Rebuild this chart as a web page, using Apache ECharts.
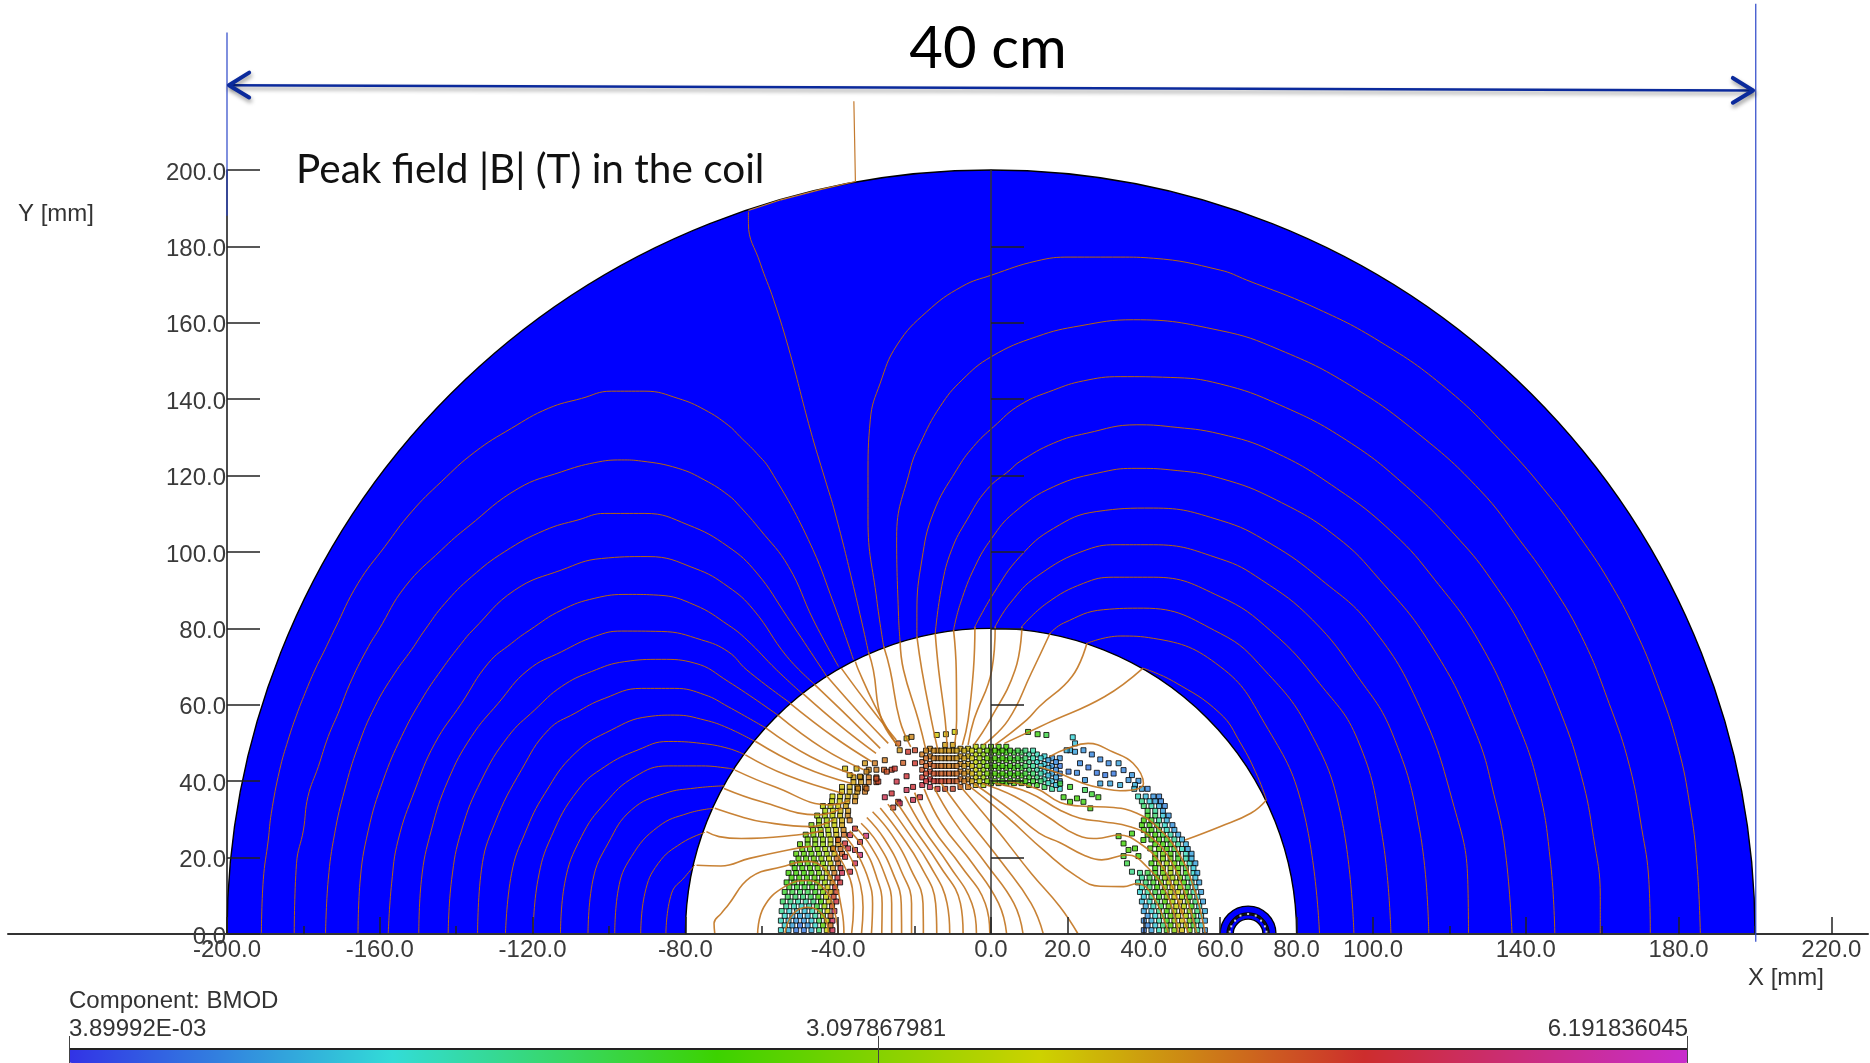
<!DOCTYPE html>
<html><head><meta charset="utf-8"><style>html,body{margin:0;padding:0;background:#fff}#c{width:1870px;height:1063px}</style>
<script src="https://cdn.jsdelivr.net/npm/echarts@6/dist/echarts.min.js"></script></head>
<body><div id="c"></div><script>
// ---------- axes (mm) ----------
const xMajor=[-200,-160,-120,-80,-40,0,20,40,60,80,100,140,180,220];
const xMinor=[-180,-140,-100,-60,-20,120,160,200];
const yTicks=[0,20,40,60,80,100,120,140,160,180,200];
const centerTicks=[20,40,60,80,100,120,140,160,180];
// ---------- labels ----------
const dimensionLabel='40 cm';
const plotTitle='Peak field |B| (T) in the coil';
const yName='Y [mm]', xName='X [mm]';
const componentName='Component: BMOD';
const fieldMin=3.89992e-3, fieldMid=3.097867981, fieldMax=6.191836045;
const fieldMinText='3.89992E-03', fieldMidText='3.097867981', fieldMaxText='6.191836045';
const fieldColors=['#3232e6','#32dcd7','#3cd200','#cdd200','#cd2d2d','#c82dcd'];
// ---------- iron and small conductor: [cx, cy, innerR, outerR] ----------
const ironBands=[[0,0,80,200]];
const conductorBlue=[[67.3,0,5.5,7.3],[67.3,0,3.9,5]];
const conductorDark=[[67.3,0,5,5.5]];
const conductorDots=[[62.5,0.6],[62.9,2],[63.9,3.5],[65.3,4.8],[67.3,5.25],[69.3,4.8],[70.7,3.5],[71.7,2],[72.1,0.6]];
// ---------- dimension lines ----------
const spanLine=[[-199.5,222.2],[199.5,220.8]];
const spanHeadLeft=[[-194.2,225.5],[-199.5,222.2],[-194.2,219]];
const spanHeadRight=[[194.2,224.1],[199.5,220.8],[194.2,217.6]];
const leftGuide=[[-200,188],[-200,236]];
const rightGuide=[[200.2,-2],[200.2,243.5]];
// ---------- flux lines in the iron ----------
const ironLines=[
[[-191,0],[-190.5,14.2],[-189.2,24.6],[-188.4,31.6],[-186.2,43],[-184,50.8],[-181.8,57.3],[-179.6,63],[-177,69.1],[-174.4,74.4],[-171.9,79.6],[-165.7,91.8],[-158.7,101.4],[-151.7,110.5],[-143.9,118.4],[-135.1,126.2],[-125.5,132.4],[-115.9,137.6],[-107.2,140.2],[-99.4,142.1],[-90.6,142.1],[-81.9,140.2],[-74.9,137.2],[-68.8,133.2],[-65.7,130.2],[-61.3,125.8],[-57.8,121.5],[-47.8,103.2],[-41.2,86.6],[-36,71.8]],
[[-182.4,0],[-181.8,18.5],[-180,27.2],[-178.8,36],[-176.1,43.8],[-173.5,51.7],[-170.9,57.8],[-167.4,66.5],[-163,75.2],[-160.3,79.6],[-153.4,90.9],[-143.9,100.5],[-136.9,106.6],[-123.8,116.6],[-112.4,121],[-103.7,123.4],[-96.7,124.1],[-91.5,123.8],[-81.9,121.9],[-74.9,118.8],[-68.8,114.9],[-65.7,111.9],[-60.4,105.8],[-53,96.2],[-46.5,82.2],[-39.9,70]],
[[-174.2,0],[-173.5,14.2],[-171.8,26.4],[-169.2,37.7],[-165.7,49.1],[-161.3,59.5],[-156.1,68.3],[-151.7,74.4],[-148.2,79.6],[-143,86.5],[-136,93.5],[-127.3,100.1],[-116.8,105.7],[-108.1,108.4],[-101.1,110.1],[-90.6,110.1],[-79.3,107.1],[-68.8,101.4],[-61.3,94.5],[-53.4,83.1],[-42.9,67.3]],
[[-165.7,0],[-165.2,13.3],[-163,27.2],[-159.1,40.3],[-154.3,51.7],[-149.1,61.3],[-143.9,69.1],[-138.6,76.1],[-135.6,79.6],[-124.7,90],[-112.4,95.3],[-102,98.3],[-89.8,98.8],[-77.5,95.7],[-68.8,90.9],[-62.2,84.9],[-53.4,72.6],[-46,65.2]],
[[-157.8,0],[-156.9,13.3],[-155.2,24.6],[-150.8,37.7],[-145.6,49.9],[-138.6,60.4],[-131.6,70.9],[-125.5,76.1],[-120.7,79.6],[-112.4,84.8],[-103.7,87.9],[-95,88.9],[-87.1,88.7],[-77.5,86.1],[-68.8,80.9],[-63.9,77],[-56.1,69.1],[-49.5,63]],
[[-149.8,0],[-149.1,14.2],[-146.5,27.2],[-142.1,40.3],[-136,51.7],[-129,60.4],[-121.2,69.1],[-112.4,73.9],[-103.7,77.9],[-96.7,79.3],[-86.3,79.2],[-75.8,77],[-68.8,73.9],[-63.9,69.1],[-52.6,60.5]],
[[-142.1,0],[-141.2,14.2],[-138.6,27.2],[-133.4,40.3],[-126.4,51.7],[-119.4,58.7],[-112.4,64.8],[-104.6,68.7],[-95.9,71.3],[-86.3,71.9],[-77.5,70.9],[-68.8,66.1],[-55.8,57.3]],
[[-134.4,0],[-133.4,16.8],[-129.9,29],[-122.9,43],[-115.9,53.4],[-108.9,57.8],[-101.1,61.7],[-91.5,64.3],[-82.8,64.3],[-74.9,62.6],[-68.8,59.5],[-58.9,53.9]],
[[-127.1,0],[-125.5,15.9],[-122,26.4],[-116.8,36.8],[-108.9,47.3],[-99.4,53.4],[-89.8,56.9],[-82.8,57.3],[-74.9,56],[-68.8,53.9],[-61.6,50.3]],
[[-119.9,0],[-118.6,14.2],[-115.1,25.5],[-108.1,37.7],[-101.1,43.8],[-92.4,48.2],[-84.5,50.4],[-75.8,49.9],[-68.8,48.6],[-64.4,46.9]],
[[-112.7,0],[-111.6,13.3],[-107.2,25.5],[-101.1,34.2],[-93.2,41.2],[-84.5,44],[-75.8,44],[-68.8,43.4],[-67,43]],
[[-105.5,0],[-104.2,14.2],[-100.2,23.8],[-94.1,32.5],[-85.4,36.8],[-77.5,38.2],[-69.7,38.8]],
[[-98.5,0],[-97.6,11.5],[-94.1,20.3],[-87.1,28.1],[-79.3,31.6],[-72.7,32.9]],
[[-91.7,0],[-90.6,10.7],[-87.1,18.5],[-81,23.8],[-74.9,26.6]],
[[-85.1,0],[-83.6,10.7],[-80.1,15],[-77.5,18.1]],
[[-63.5,189.1],[-63.5,186],[-60.4,175.6],[-56.9,166],[-52.6,152],[-47.3,132],[-43.4,118.9],[-40.8,110.2],[-36,91],[-32.1,73.9]],
[[-28.1,75.3],[-29.9,87.5],[-32.2,108.4],[-32.2,119.7],[-31.6,134.6],[-29,144.2],[-24.6,154.2],[-16.8,162.9],[-7.6,169.5],[0.2,172.5],[12,176.2],[20.7,177.2],[33.8,177.2],[42.5,176.9],[60,173.8],[66.9,171.2],[84.3,164.2],[101.8,155.1],[119.2,142.8],[134.1,128.4],[146.3,114.5],[154.1,104],[161.6,92.7],[168.6,79.6],[174.4,65.6],[179.8,49.1],[183,33.4],[184.8,18.5],[185.7,0]],
[[-23.8,76.6],[-24.2,83.1],[-24.7,104],[-21.2,121.5],[-18.5,128.5],[-13.3,138.1],[-7.6,145],[0.2,151.2],[12,156.4],[23.3,159.2],[37.3,160.8],[59.9,158],[75.6,152.9],[93.9,143.7],[112.3,130.6],[128,116.2],[138.4,103.1],[145.9,92.7],[154.6,77.9],[161.8,60.4],[167.2,43.8],[170.4,27.3],[172.2,14.2],[172.6,0]],
[[-19.4,77.9],[-19.4,84],[-18.1,97.9],[-15.1,110.2],[-9,121.5],[-4.6,127.6],[0.7,132.8],[7.6,138.5],[16.4,142.4],[24.2,144.8],[33.8,145.9],[46.9,145.7],[60,144],[75.6,138.5],[93,129.3],[108.8,117.1],[122.7,103.1],[131,92.7],[140.2,77.9],[149.2,57.8],[154.6,41.2],[157.7,25.5],[159.5,9.8],[159.5,0]],
[[-14.6,78.7],[-12.9,91],[-10.3,100.6],[-6.3,108.4],[-1.1,116.3],[5,121.5],[7.6,123.7],[16.4,128.5],[25.1,131.1],[38.2,133.3],[46.9,132.8],[60,130.9],[73.9,126.3],[90.4,116.7],[105.3,104.9],[116.2,92.7],[127.5,77],[137.5,56],[143.3,38.6],[146.5,18.5],[147.6,0]],
[[-9.8,79.6],[-8,86.6],[-4.2,96.2],[0.2,103.6],[5.9,110.2],[16.4,117.1],[29.5,121],[38.2,121.9],[46.9,121.5],[60,119.3],[74.7,113.6],[90.4,104],[101.8,92.7],[114.9,76.1],[126.6,53.4],[132,35.1],[134.7,21.1],[136.4,0]],
[[-4.2,80.5],[0.7,89.2],[7.6,98.8],[16.4,106.2],[27.7,110.6],[42.5,111.5],[60,108.3],[73,102.3],[86.5,92.7],[99.6,80.5],[112.2,59.5],[121.2,33.4],[124.8,14.2],[125,0]],
[[1.1,80.5],[5,86.6],[12,93.6],[25.1,100.6],[33.8,101.9],[42.5,101.9],[60,98.2],[70.8,92.7],[84.2,82.2],[96,67.4],[105,52.6],[112.2,27.3],[114.6,0]],
[[8.1,80.5],[14.6,86.6],[24.2,91.8],[32.1,93.4],[42.5,93.4],[60,88.3],[73.4,79.2],[86,65.6],[96,50.8],[102.3,26.4],[104.7,0]],
[[15.5,78.8],[19,81.4],[29.5,84.9],[39.9,85.3],[60,78.7],[71.6,69.1],[83.3,53.4],[91.5,31.6],[95,0]],
[[25.1,76.1],[33.8,78],[42.5,77.4],[60,70],[71.6,55.2],[81.5,33.4],[86,0]],
[[39.8,69.6],[47.8,66.1],[59.9,57.8],[65.3,50],[69.8,41.2],[72.1,35.1]]
];
const edgeLine=[[-35.9,218],[-35.7,208],[-35.5,197],[-45,194.8],[-55,192.2],[-63.5,189.4]];
// ---------- flux lines in the air gap and bore ----------
const boreLines=[
[[-77.1,18],[-70.7,17.8],[-63.2,19.8],[-53.1,22],[-47,23]],
[[-74.5,26.8],[-71.2,25.5],[-65.4,25],[-50.9,25.9],[-44,27]],
[[-72.3,32.9],[-65.4,30.7],[-60,29.4],[-47.2,28.1],[-41,30]],
[[-69.9,38.1],[-60,34.6],[-45.1,31.2],[-39,33]],
[[-67,42.9],[-56.8,38.6],[-41.9,33.8],[-37,35]],
[[-64.3,46.9],[-53.6,41.6],[-38.7,36.8]],
[[-61.6,50.4],[-49.3,43.8],[-36.5,39.4]],
[[-58.9,53.9],[-47.2,46.4],[-35.5,41.6]],
[[-55.8,57.3],[-44,48.6],[-33.3,43]],
[[-52.6,60.4],[-41.3,51.7],[-31.2,45.1]],
[[-49.3,63],[-39.2,54.3],[-30.1,47.3]],
[[-46.1,65.2],[-36.5,56],[-29,48.6]],
[[-42.9,67.4],[-34.4,57.8],[-26.9,49.9]],
[[-39.2,69.6],[-31.7,59.5],[-24.8,50.8]],
[[-35.5,71.3],[-34.7,69.1],[-30.5,60],[-25,50]],
[[-32.1,73.9],[-30.8,69.1],[-28.6,56],[-24,49]],
[[-28.1,75.3],[-26.4,69.1],[-23.9,56],[-21,49]],
[[-23.8,76.6],[-22.9,69.1],[-19,56],[-17,48]],
[[-19.4,77.9],[-18.1,69.1],[-15.6,56],[-14,48.5]],
[[-14.6,78.7],[-13.7,69.1],[-12,56],[-11.5,49]],
[[-9.8,79.6],[-9.1,69.1],[-9,56],[-9.5,49.5]],
[[-4.2,80.5],[-4.6,69.1],[-6,56],[-7.5,49.5]],
[[1.1,80.5],[0.2,69.1],[-4.5,56],[-6,49.5]],
[[8.1,80.5],[6.3,69.1],[-0.3,56],[-4.5,49.5]],
[[15.5,78.8],[10.5,68.2],[4.5,56],[-2,49.5]],
[[25.1,76.1],[21.2,67.4],[12.6,59.5],[9.3,56],[1,49.5]],
[[39.8,69.6],[29.7,62.1],[14.8,55.2],[3.5,49.9]],
[[72.1,35.1],[68,31.6],[59.9,28.1],[50.8,24.6]],
[[15.3,46.4],[20.1,48.6],[25.4,49.9],[31.8,47.7],[37.2,44.7],[39.9,39.4],[33.8,37.5],[29.4,38.1],[24.2,39.4],[18,42],[12.6,43.8]],
[[56.1,0],[53,12.4],[48.6,22],[43.4,28.1],[38.2,31.6],[32.1,33.1],[23.3,33.5],[18.1,34.4],[12,38],[4,40]],
[[53.9,0],[50.8,10.6],[46.9,19.4],[41.7,25.5],[36.4,28.1],[29.4,29.4],[23.3,30.3],[18.1,32.4],[10,37],[1,39.5]],
[[51.7,0],[48.2,10.6],[44.3,18.5],[39,23.7],[33.4,25.9],[27.7,25],[22.5,25.9],[14.8,30.7],[6.2,36],[-2.3,39.4]],
[[49.1,0],[46,10.6],[40.8,17.6],[35.6,20.7],[29,19.4],[24.2,20.7],[18.1,23.9],[12.6,26.4],[5.1,32.5],[-4.5,39.4]],
[[46.5,0],[42.5,9.7],[38.2,13.2],[34.7,12.4],[28.6,12.5],[22.5,15],[13.7,22],[4.1,30.7],[-6.6,39.4]],
[[22.8,0],[18,7.2],[10.5,15.9],[0.9,28.1],[-8.7,39.4]],
[[13.7,0],[10.5,8],[3,18.5],[-6.6,30.7],[-13,39.4]],
[[8.4,0],[6,8],[-1,18],[-10,30],[-15,38.5]],
[[4.1,0],[2,8],[-4.5,18],[-13,29],[-17.5,38]],
[[-0.3,0],[-1.5,8],[-8,18],[-15.5,28],[-20,37]],
[[-3.8,0],[-5,8],[-11,18],[-18,28],[-22.5,36]],
[[-7.3,0],[-8,8],[-13.5,18],[-20,27.5],[-25,35]],
[[-10.8,0],[-11.5,8],[-16,18],[-22,27],[-27,34]],
[[-14.2,0],[-14.5,8],[-18.5,18],[-24,26.5],[-29,33]],
[[-17.7,0],[-17.8,8],[-21,17],[-26,26],[-31,32]],
[[-20.8,0],[-20.8,8],[-23.5,16.5],[-28,25],[-32.5,30.5]],
[[-23.4,0],[-23.5,8],[-25.7,16],[-29.8,24],[-34,29]],
[[-26,0],[-26,8],[-27.8,15.5],[-31.5,23],[-35.5,28]],
[[-28.6,0],[-28.5,8],[-30,15],[-33,22],[-37,27]],
[[-31.3,0],[-31,8],[-32,14],[-35,21],[-38,25.5]],
[[-33.9,0],[-33.5,7],[-34.2,13],[-36.5,19.5],[-39.5,24]],
[[-36.5,0],[-36,7],[-36.3,12],[-38.5,18],[-41,22]],
[[-54,0],[-52,5],[-48,7],[-44,5],[-42.5,0]],
[[-61.1,0],[-59.5,7],[-54,12.4],[-48,14],[-43,11],[-40.5,4],[-40,0]],
[[-72.3,0],[-72.5,2.8],[-70.6,5.4],[-68.8,7.6],[-63,14.8],[-54.7,17.6],[-48,19],[-42,15],[-39,6],[-38.5,0]]
];
// ---------- coil strands: [x, y, |B|] ----------
const coilLeftLeg=[
[-55,1,1.3],[-53,1,.9],[-51,1,.5],[-49,1,.5],[-47,1,.9],[-45,1,1.8],[-43,1,3.6],[-41.5,1,5.2],
[-55,3.5,1.4],[-53,3.5,1],[-51,3.5,.7],[-49,3.5,.7],[-47,3.5,1.1],[-45,3.5,2],[-43,3.5,3.7],[-41.5,3.5,5.3],
[-54.8,6,1.6],[-52.8,6,1.2],[-50.8,6,1],[-48.8,6,1],[-46.8,6,1.4],[-44.8,6,2.2],[-42.8,6,3.8],[-41,6,5.4],
[-54.5,8.5,1.9],[-52.5,8.5,1.7],[-50.5,8.5,1.5],[-48.5,8.5,1.5],[-46.5,8.5,1.8],[-44.5,8.5,2.5],[-42.5,8.5,3.9],[-40.5,8.5,5.1],
[-54,11,2.2],[-52,11,2.1],[-50,11,2],[-48,11,2],[-46,11,2.3],[-44,11,3],[-42,11,4.1],[-40.5,11,4.8],
[-53.5,13.5,2.4],[-51.5,13.5,2.4],[-49.5,13.5,2.4],[-47.5,13.5,2.4],[-45.5,13.5,2.7],[-43.5,13.5,3.3],[-41.5,13.5,4.3],[-39.5,13.5,5],
[-53,16,2.5],[-51,16,2.5],[-49,16,2.5],[-47,16,2.6],[-45,16,2.9],[-43,16,3.5],[-41,16,4.4],[-39,16,5.2],
[-52,18.5,2.6],[-50,18.5,2.6],[-48,18.5,2.7],[-46,18.5,2.9],[-44,18.5,3.1],[-42,18.5,3.7],[-40,18.5,4.5],
[-51,21,2.7],[-49,21,2.7],[-47,21,2.8],[-45,21,3],[-43,21,3.3],[-41,21,3.9],[-39,21,4.6],
[-50,23.5,2.8],[-48,23.5,2.8],[-46,23.5,3],[-44,23.5,3.2],[-42,23.5,3.6],[-40,23.5,4.2],
[-48.5,26,2.9],[-46.5,26,3],[-44.5,26,3.2],[-42.5,26,3.5],[-40.5,26,3.9],[-38.5,26,4.5],
[-47,28.5,3],[-45,28.5,3.2],[-43,28.5,3.4],[-41,28.5,3.7],[-39,28.5,4.1],
[-45.5,31,3.3],[-43.5,31,3.4],[-41.5,31,3.6],[-39.5,31,3.9],[-37.5,31,4.3],
[-44,33.5,3.5],[-42,33.5,3.6],[-40,33.5,3.8],[-38,33.5,4.1],
[-41.5,36,3.7],[-39.5,36,3.8],[-37.5,36,4],[-35.5,36,4.2],
[-39,38.5,3.9],[-37,38.5,4],[-35,38.5,4.2],[-33,38.5,4.4],
[-36,41,4.1],[-34,41,4.2],[-32,41,4.4],[-30,41,4.6],
[-32,43,4.3],[-30,43,4.4],[-28,43,4.6],[-26,43,4.8]];
const coilLeftFill=[
[-54,2.25,1.2],[-52,2.25,.8],[-50,2.25,.5],[-48,2.25,.7],[-46,2.25,1.3],[-44,2.25,2.7],[-42,2.25,4.5],
[-54,4.75,1.3],[-52,4.75,.9],[-50,4.75,.8],[-48,4.75,.9],[-46,4.75,1.5],[-44,4.75,2.9],[-42,4.75,4.6],
[-53.6,7.25,1.6],[-51.6,7.25,1.4],[-49.6,7.25,1.3],[-47.6,7.25,1.5],[-45.6,7.25,2.2],[-43.6,7.25,3.3],[-41.6,7.25,4.7],
[-53.2,9.75,2],[-51.2,9.75,1.9],[-49.2,9.75,1.8],[-47.2,9.75,2],[-45.2,9.75,2.6],[-43.2,9.75,3.6],[-41.2,9.75,4.8],
[-52.8,12.25,2.3],[-50.8,12.25,2.2],[-48.8,12.25,2.2],[-46.8,12.25,2.4],[-44.8,12.25,3],[-42.8,12.25,3.8],[-40.8,12.25,4.9],
[-52.2,14.75,2.5],[-50.2,14.75,2.5],[-48.2,14.75,2.5],[-46.2,14.75,2.7],[-44.2,14.75,3.2],[-42.2,14.75,4],[-40.2,14.75,5],
[-51.4,17.25,2.5],[-49.4,17.25,2.6],[-47.4,17.25,2.7],[-45.4,17.25,2.9],[-43.4,17.25,3.4],[-41.4,17.25,4.2],[-39.4,17.25,5],
[-50.4,19.75,2.7],[-48.4,19.75,2.7],[-46.4,19.75,2.9],[-44.4,19.75,3.2],[-42.4,19.75,3.7],[-40.4,19.75,4.5],
[-49.4,22.25,2.8],[-47.4,22.25,2.8],[-45.4,22.25,3],[-43.4,22.25,3.4],[-41.4,22.25,3.9],[-39.4,22.25,4.5],
[-48,24.75,2.9],[-46,24.75,3],[-44,24.75,3.2],[-42,24.75,3.6],[-40,24.75,4.2],
[-46.6,27.25,3],[-44.6,27.25,3.2],[-42.6,27.25,3.4],[-40.6,27.25,3.8],[-38.6,27.25,4.3],
[-45,29.75,3.2],[-43,29.75,3.4],[-41,29.75,3.7],[-39,29.75,4],[-37,29.75,4.4],
[-43.4,32.25,3.4],[-41.4,32.25,3.6],[-39.4,32.25,3.9],[-37.4,32.25,4.2],
[-41.6,34.75,3.6],[-39.6,34.75,3.8],[-37.6,34.75,4],[-35.6,34.75,4.3],
[-39,37.25,3.9],[-37,37.25,4],[-35,37.25,4.2],[-33,37.25,4.4],
[-36,39.75,4.1],[-34,39.75,4.2],[-32,39.75,4.4],[-30,39.75,4.6]];
const coilLeftSparse=[
[-24.3,49.9,4.6],[-22.1,51.2,3.9],[-20.8,51.6,4.3],[-23.9,48.1,4.2],[-21.7,47.7,4.9],[-19.9,48.1,4.8],
[-14.2,52.1,3.8],[-11.8,52.3,3.9],[-9.5,52.9,3.7],
[-27.8,35.8,5.2],[-26,36.8,5],[-22.1,37.7,5.2],[-20.4,38.5,5],[-24.3,34.6,5.1],[-20.4,35.1,5.2],[-18.6,35.8,5],[-25.6,33.1,4.8],[-23.9,34.2,5.3],
[-32.7,25.7,5.5],[-34.3,24.1,5.2],[-35.6,27.6,5],[-36.9,25.9,5.2],[-38.2,23.7,5],[-40,24.6,4.6],[-35.6,22,5.3],[-37.4,22.4,5.1],[-34.3,20.7,5.5],[-38.2,20.2,5],[-35.6,18.5,5.3],[-36.9,16.3,5.1],[-41.3,22.4,4.4],
[-27.8,45.5,4.4],[-25.2,43.3,4.9],[-23,44.8,4.6],[-22.1,41.3,5],[-19.9,44.7,4.9],[-27.3,42.5,4.7],[-24.7,39.9,5.1],[-29.5,39.9,4.8],
[-33,44.7,4.2],[-30.4,44.7,4.4],[-35.2,43.3,4],[-32.6,42.5,4.3],[-30,40.7,4.7],[-34.3,41.2,4.2],[-32.6,38.1,4.5],[-34.8,38.1,4.3],[-37,41.6,4],[-38.2,43.3,3.9]];
const coilTop=[
[-18,39,5.1],[-18,41,4.9],[-18,43,4.7],[-18,45,4.6],[-18,47,4.4],
[-16,38.5,5.2],[-16,40.5,5],[-16,42.5,4.8],[-16,44.5,4.6],[-16,46.5,4.4],[-16,48.5,4.3],
[-14,38,5],[-14,40,4.9],[-14,42,4.7],[-14,44,4.5],[-14,46,4.4],[-14,48,4.3],
[-12,38,4.9],[-12,40,4.8],[-12,42,4.6],[-12,44,4.4],[-12,46,4.3],[-12,48,4.2],[-12,49.5,4.1],
[-10,38,4.8],[-10,40,4.7],[-10,42,4.5],[-10,44,4.4],[-10,46,4.3],[-10,48,4.2],[-10,49.5,4.1],
[-8,38.5,4.6],[-8,40.5,4.5],[-8,42.5,4.4],[-8,44.5,4.3],[-8,46.5,4.2],[-8,48.5,4.1],
[-6,38.5,4.4],[-6,40.5,4.3],[-6,42.5,4.2],[-6,44.5,4.1],[-6,46.5,4],[-6,48.5,3.9],
[-4,39,3.9],[-4,41,3.8],[-4,43,3.7],[-4,45,3.6],[-4,47,3.5],[-4,49,3.5],
[-2,39,3.4],[-2,41,3.3],[-2,43,3.2],[-2,45,3.1],[-2,47,3.1],[-2,49,3.1],
[0,39.5,2.9],[0,41.5,2.8],[0,43.5,2.7],[0,45.5,2.7],[0,47.5,2.7],[0,49,2.8],
[2,39.5,2.6],[2,41.5,2.6],[2,43.5,2.5],[2,45.5,2.5],[2,47.5,2.5],[2,49,2.6],
[4,39.5,2.5],[4,41.5,2.5],[4,43.5,2.5],[4,45.5,2.5],[4,47.5,2.4],[4,49,2.5],
[6,39.5,2.6],[6,41.5,2.5],[6,43.5,2.4],[6,45.5,2.3],[6,47.5,2.2],
[8,39.5,2.6],[8,41.5,2.4],[8,43.5,2.2],[8,45.5,2.1],[8,47.5,2],
[10,39,2.5],[10,41,2.2],[10,43,1.9],[10,45,1.7],[10,47,1.6],
[12,39,2.3],[12,41,1.8],[12,43,1.5],[12,45,1.3],[12,47,1.4],
[14,38.5,2],[14,40.5,1.5],[14,42.5,1.2],[14,44.5,1.1],[14,46.5,1.2],
[16,38,1.6],[16,40,1],[16,42,.8],[16,44,.7],[16,46,.7],
[18,38,1.2],[18,40,.7],[18,42,.6],[18,44,.5],[18,46,.7],
[9.7,52.9,2.5],[12.2,52.3,2.4],[14.5,52.1,2.1]];
const coilTopFill=[
[-17,40,5],[-17,42,4.8],[-17,44,4.6],[-17,46,4.5],[-17,48,4.3],
[-15,40,4.9],[-15,42,4.7],[-15,44,4.6],[-15,46,4.4],[-15,48,4.3],
[-13,40,4.8],[-13,42,4.6],[-13,44,4.5],[-13,46,4.3],[-13,48,4.2],
[-11,40,4.7],[-11,42,4.6],[-11,44,4.4],[-11,46,4.3],[-11,48,4.2],
[-9,40,4.6],[-9,42,4.5],[-9,44,4.4],[-9,46,4.2],[-9,48,4.1],
[-7,40,4.4],[-7,42,4.3],[-7,44,4.2],[-7,46,4.1],[-7,48,4],
[-5,40,4.1],[-5,42,4],[-5,44,3.9],[-5,46,3.8],[-5,48,3.7],
[-3,40,3.6],[-3,42,3.5],[-3,44,3.4],[-3,46,3.3],[-3,48,3.3],
[-1,40,3.1],[-1,42,3],[-1,44,2.9],[-1,46,2.9],[-1,48,2.9],
[1,40,2.7],[1,42,2.6],[1,44,2.6],[1,46,2.6],[1,48,2.6],
[3,40,2.5],[3,42,2.5],[3,44,2.5],[3,46,2.5],[3,48,2.5],
[5,40,2.5],[5,42,2.4],[5,44,2.4],[5,46,2.3],[5,48,2.3],
[7,40,2.5],[7,42,2.4],[7,44,2.3],[7,46,2.2],[7,48,2.1],
[9,40,2.4],[9,42,2.2],[9,44,2],[9,46,1.9],[9,48,1.8],
[11,40,2.2],[11,42,1.9],[11,44,1.6],[11,46,1.5],[11,48,1.5],
[13,40,1.9],[13,42,1.5],[13,44,1.2],[13,46,1.2],
[15,39.5,1.4],[15,41.5,1],[15,43.5,.9],[15,45.5,.8],
[17,39,1],[17,41,.8],[17,43,.6],[17,45,.6]];
const coilRightSparse=[
[21.4,51.5,1.2],[22,49.9,1],[20.7,48.1,.9],[22,47.7,.8],[24.2,48.1,.7],[19.8,48.1,.9],[23.3,44.7,.6],[26.4,47,.6],[28.6,45.7,.6],[30.8,44.7,.6],[33.4,44.7,.8],[34.7,42.9,.6],[36.9,41.6,.7],[38.6,40.1,.7],[20.3,42.5,.5],[22.5,42.2,.6],[25.5,43.6,.5],[27.7,42.2,.5],[29.9,41.6,.5],[32.1,42,.5],[36,40.3,.7],[24.6,40.3,.7],[28.6,39.4,.8],[31.2,39.4,.8],[33.8,39,.9],[37.7,39,.9],
[18.1,39.4,2.1],[20.7,38.5,2.3],[22.5,35.5,2.5],[24.6,37.7,2],[26.4,36.6,2.2],[28.1,35.8,2.4],[26,32.9,2.5],[24.2,34.6,2.4],[20.7,34.6,2.5],[19,35.8,2.4],
[33.4,25.6,2.5],[36.9,26.3,2.4],[34.7,23.7,2.5],[37.7,22.4,2.5],[36,22,2.6],[38.6,20.4,2.5],[34.7,20.4,2.3],[35.6,18.5,2.1],[41.7,22.4,2.7],[39.9,24.6,2.5],[36.9,16.3,1.7]];
const coilRightLeg=[
[40,1,.5],[42,1,.8],[44,1,1.4],[46,1,2.3],[48,1,3.1],[50,1,3.9],[52,1,2.8],[54,1,1.6],[56,1,.7],
[40,3.5,.6],[42,3.5,.9],[44,3.5,1.5],[46,3.5,2.4],[48,3.5,3.2],[50,3.5,3.9],[52,3.5,2.9],[54,3.5,1.7],[56,3.5,.8],
[40,6,.8],[42,6,1.1],[44,6,1.7],[46,6,2.5],[48,6,3.3],[50,6,4],[52,6,3],[54,6,1.8],[56,6,.9],
[39.5,8.5,1],[41.5,8.5,1.3],[43.5,8.5,1.9],[45.5,8.5,2.6],[47.5,8.5,3.4],[49.5,8.5,4],[51.5,8.5,2.9],[53.5,8.5,1.8],[55.5,8.5,.8],
[39,11,1.2],[41,11,1.6],[43,11,2.1],[45,11,2.7],[47,11,3.5],[49,11,3.8],[51,11,2.7],[53,11,1.6],[55,11,.8],
[38.5,13.5,1.5],[40.5,13.5,1.9],[42.5,13.5,2.3],[44.5,13.5,2.7],[46.5,13.5,3.5],[48.5,13.5,3.3],[50.5,13.5,2.5],[52.5,13.5,1.5],[54.5,13.5,.8],
[39,16,1.7],[41,16,2.1],[43,16,2.4],[45,16,2.8],[47,16,3.4],[49,16,3],[51,16,2.4],[53,16,1.3],[54,16,.8],
[42,18.5,2.5],[44,18.5,3],[46,18.5,3.3],[48,18.5,2.8],[50,18.5,2.3],[52,18.5,1.4],[53.5,18.5,.8],
[43,21,2.7],[45,21,2.9],[47,21,2.6],[49,21,2.2],[51,21,1.4],[52.5,21,.8],
[43,23.5,2.6],[45,23.5,2.5],[47,23.5,2.3],[49,23.5,1.6],[51,23.5,.9],
[41,26,2.6],[43,26,2.5],[45,26,2.2],[47,26,1.5],[49,26,.8],
[39.5,28.5,2.5],[41.5,28.5,2.4],[43.5,28.5,2.1],[45.5,28.5,1.3],[47.5,28.5,.7],
[41,31,2.4],[43,31,1.9],[45,31,1.1],[46.5,31,.7],
[40,33.5,1.9],[42,33.5,1.5],[44,33.5,.9],[45.5,33.5,.6],
[38.5,36,1.4],[40.5,36,1],[42.5,36,.7],[44,36,.6],
[37.5,38,1],[39.5,38,.8],[41,38,.6]];
const coilRightFill=[
[41,2.25,.6],[43,2.25,1.1],[45,2.25,1.8],[47,2.25,2.7],[49,2.25,3.5],[51,2.25,3.4],[53,2.25,2.2],[55,2.25,1.1],
[41,4.75,.7],[43,4.75,1.2],[45,4.75,2],[47,4.75,2.8],[49,4.75,3.6],[51,4.75,3.4],[53,4.75,2.3],[55,4.75,1.2],
[40.5,7.25,.9],[42.5,7.25,1.4],[44.5,7.25,2.1],[46.5,7.25,2.9],[48.5,7.25,3.7],[50.5,7.25,3.5],[52.5,7.25,2.4],[54.5,7.25,1.3],
[40,9.75,1.1],[42,9.75,1.7],[44,9.75,2.3],[46,9.75,3],[48,9.75,3.8],[50,9.75,3.3],[52,9.75,2.2],[54,9.75,1.2],
[39.5,12.25,1.4],[41.5,12.25,1.9],[43.5,12.25,2.5],[45.5,12.25,3.1],[47.5,12.25,3.7],[49.5,12.25,3],[51.5,12.25,2.1],[53.5,12.25,1.1],
[39.5,14.75,1.6],[41.5,14.75,2.1],[43.5,14.75,2.6],[45.5,14.75,3.2],[47.5,14.75,3.4],[49.5,14.75,2.8],[51.5,14.75,1.9],[53.5,14.75,1],
[43,17.25,2.5],[45,17.25,3],[47,17.25,3.3],[49,17.25,2.8],[51,17.25,2],[53,17.25,1.1],
[43,19.75,2.7],[45,19.75,3],[47,19.75,2.8],[49,19.75,2.3],[51,19.75,1.5],[52.5,19.75,.9],
[44,22.25,2.7],[46,22.25,2.5],[48,22.25,2.1],[50,22.25,1.4],[51.5,22.25,.8],
[42,24.75,2.6],[44,24.75,2.5],[46,24.75,2.3],[48,24.75,1.6],[50,24.75,.9],
[40,27.25,2.6],[42,27.25,2.5],[44,27.25,2.2],[46,27.25,1.4],[48,27.25,.8],
[40,29.75,2.5],[42,29.75,2.3],[44,29.75,1.6],[46,29.75,.9],
[41,32.25,2.1],[43,32.25,1.6],[45,32.25,.8],
[39.5,34.75,1.7],[41.5,34.75,1.1],[43,34.75,.8],[44.5,34.75,.6]];

// ---------- layout of the page ----------
const PX=3.82, X0=991, Y0=934, L=8, R=1868;
const grid={left:L,top:Y0-200*PX,width:R-L,height:200*PX};
const xMin=(L-X0)/PX, xMax=(R-X0)/PX;
const bandRender=(fill,stroke)=>(params,api)=>{
  const c=api.coord([api.value(0),api.value(1)]);
  const r0=api.size([api.value(2),0])[0], r=api.size([api.value(3),0])[0];
  return {type:'sector',shape:{cx:c[0],cy:c[1],r0:r0,r:r,startAngle:Math.PI,endAngle:2*Math.PI,clockwise:true},
    style:{fill:fill,stroke:stroke,lineWidth:stroke?1.4:0}};
};
const lineSeries=(data,color,width,z,extra)=>Object.assign({type:'line',data:data,symbol:'none',smooth:.45,clip:false,silent:true,z:z,
  lineStyle:{color:color,width:width}},extra||{});
const band=(data,fill,stroke,z)=>({type:'custom',data:data,renderItem:bandRender(fill,stroke),silent:true,z:z,clip:false,
  encode:{x:0,y:1}});
const spanShadow={shadowBlur:4,shadowColor:'rgba(0,0,0,.4)',shadowOffsetY:3,shadowOffsetX:1};
const allCoil=[].concat(coilLeftLeg,coilLeftFill,coilLeftSparse,coilTop,coilTopFill,coilRightSparse,coilRightLeg,coilRightFill);
const series=[
  band(ironBands,'#0000ff','#000',2),
  ...ironLines.map(d=>lineSeries(d,'#b5650f',1,3)),
  lineSeries(edgeLine,'#c47a2e',1.2,3,{smooth:false}),
  band(conductorBlue,'#0000ff','#000',4),
  band(conductorDark,'#111',null,4),
  {type:'scatter',data:conductorDots,symbol:'rect',symbolSize:2,itemStyle:{color:'#fff'},silent:true,z:5},
  {type:'scatter',data:allCoil,symbol:'rect',symbolSize:5,itemStyle:{borderColor:'#000',borderWidth:1},silent:true,z:4,large:false},
  ...boreLines.map(d=>lineSeries(d,'#c2741f',1.6,6,{lineStyle:{color:'#c2741f',width:1.6,opacity:.9}})),
  lineSeries(spanLine,'#0b2a9c',2.6,12,{smooth:false,lineStyle:Object.assign({color:'#0b2a9c',width:2.6},spanShadow)}),
  lineSeries(spanHeadLeft,'#0b2a9c',4,12,{smooth:false,lineStyle:Object.assign({color:'#0b2a9c',width:4,cap:'round',join:'round'},spanShadow)}),
  lineSeries(spanHeadRight,'#0b2a9c',4,12,{smooth:false,lineStyle:Object.assign({color:'#0b2a9c',width:4,cap:'round',join:'round'},spanShadow)}),
  lineSeries(leftGuide,'#2a45c8',1.2,11,{smooth:false}),
  lineSeries(rightGuide,'#2a45c8',1.2,11,{smooth:false})
];
const coilIndex=series.findIndex(s=>s.data===allCoil);
const axisFont={fontFamily:'"Liberation Sans"',fontSize:24,color:'#3a3a3a'};
const text=(t,x,y,font,align,fill)=>({type:'text',z:20,silent:true,style:{text:t,x:x,y:y,font:font,textAlign:align||'left',textVerticalAlign:'middle',fill:fill||'#333'}});
const smallFont='24px "Liberation Sans"';
const chart=echarts.init(document.getElementById('c'),null,{renderer:'canvas'});
chart.setOption({
  animation:false,backgroundColor:'#fff',grid:grid,
  tooltip:{show:false},
  xAxis:[
    {type:'value',min:xMin,max:xMax,z:10,splitLine:{show:false},
     axisLine:{show:true,onZero:false,lineStyle:{color:'#333',width:2}},
     axisTick:{show:true,inside:true,length:17,customValues:xMajor,lineStyle:{color:'#222',width:1.5}},
     axisLabel:Object.assign({show:true,margin:4,customValues:xMajor,hideOverlap:false,showMinLabel:true,showMaxLabel:true,formatter:v=>v.toFixed(1)},axisFont)},
    {type:'value',min:xMin,max:xMax,z:10,position:'bottom',splitLine:{show:false},
     axisLine:{show:false,onZero:false},
     axisTick:{show:true,inside:true,length:8,customValues:xMinor,lineStyle:{color:'#222',width:1.5}},
     axisLabel:{show:false}}
  ],
  yAxis:[
    {type:'value',min:0,max:200,z:10,position:'left',offset:-(X0-200*PX-L),splitLine:{show:false},
     axisLine:{show:true,onZero:false,lineStyle:{color:'#111',width:1.5}},
     axisTick:{show:true,inside:true,length:33,customValues:yTicks,lineStyle:{color:'#222',width:1.5}},
     axisLabel:Object.assign({show:true,margin:1,verticalAlign:'top',lineHeight:6,customValues:yTicks,showMinLabel:true,showMaxLabel:true,formatter:v=>v.toFixed(1)},axisFont)},
    {type:'value',min:0,max:200,z:10,position:'left',offset:-(X0-L),splitLine:{show:false},
     axisLine:{show:true,onZero:false,lineStyle:{color:'#333',width:1.5}},
     axisTick:{show:true,inside:true,length:33,customValues:centerTicks,lineStyle:{color:'#222',width:1.5}},
     axisLabel:{show:false}}
  ],
  visualMap:[{type:'continuous',seriesIndex:coilIndex,dimension:2,min:fieldMin,max:fieldMax,orient:'horizontal',
    left:69,top:1049,itemWidth:14,itemHeight:1619,padding:0,calculable:false,text:null,show:true,hoverLink:false,
    inRange:{color:fieldColors}}],
  graphic:{elements:[
    text(dimensionLabel,988,49,'58px Lato','center','#000'),
    text(plotTitle,296,170,'40.5px Lato','left','#111'),
    text(yName,18,214,smallFont),
    text(xName,1748,978,smallFont),
    text(componentName,69,1001,smallFont),
    text(fieldMinText,69,1029,smallFont),
    text(fieldMidText,876,1029,smallFont,'center'),
    text(fieldMaxText,1688,1029,smallFont,'right'),
    {type:'rect',z:20,silent:true,shape:{x:69,y:1048,width:1619,height:2},style:{fill:'#222'}},
    {type:'rect',z:20,silent:true,shape:{x:69,y:1036,width:1,height:27},style:{fill:'#444'}},
    {type:'rect',z:20,silent:true,shape:{x:878,y:1036,width:1,height:27},style:{fill:'#444'}},
    {type:'rect',z:20,silent:true,shape:{x:1687,y:1036,width:1,height:27},style:{fill:'#444'}}
  ]},
  series:series
});
</script></body></html>
